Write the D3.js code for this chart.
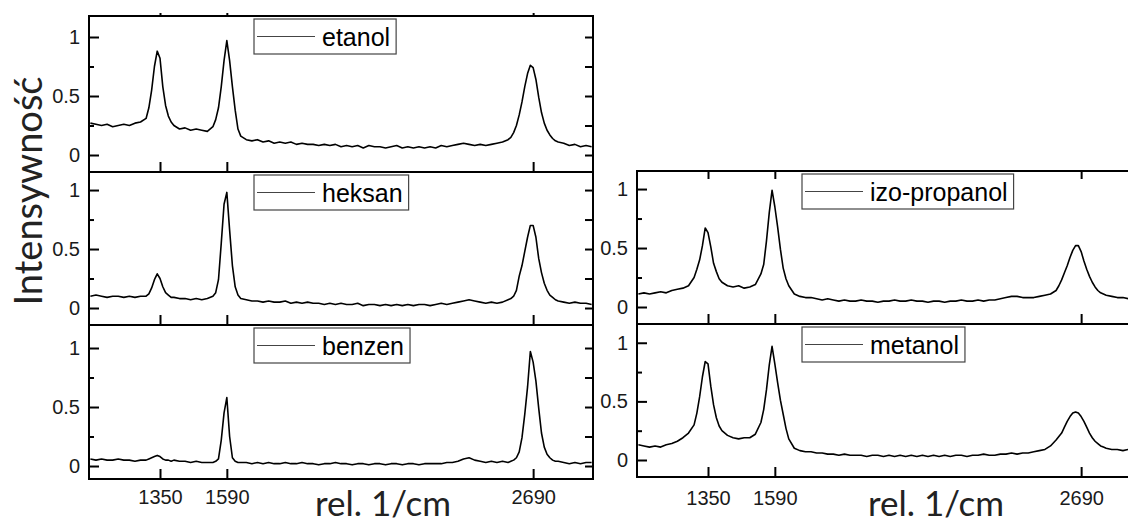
<!DOCTYPE html>
<html>
<head>
<meta charset="utf-8">
<script src="https://cdn.jsdelivr.net/npm/d3@7"></script>
<style>
  body { margin: 0; background: #fff; }
  svg { display: block; }
</style>
</head>
<body>
<script>
// Raman spectra, intensity vs. relative wavenumber (1/cm)

var wavenumber = [
  1100,1120,1140,1160,1180,1200,1220,1240,1260,1280,1300,
  1310,1320,1330,1340,1350,1360,1370,1380,1390,1400,
  1420,1440,1460,1480,1500,1520,1540,
  1550,1560,1570,1580,1590,1600,1610,1620,1630,1640,
  1660,1680,1700,1720,1740,1760,1780,1800,1820,1840,
  1860,1880,1900,1920,1940,1960,1980,2000,2020,2040,
  2060,2080,2100,2120,2140,2160,2180,2200,2220,2240,
  2260,2280,2300,2320,2340,2360,2380,2400,2420,2440,
  2460,2480,2500,2520,2540,2560,2580,2600,
  2610,2620,2630,2640,2650,2660,2670,2680,2690,2700,2710,2720,2730,2740,2750,2760,2770,2780,
  2800,2820,2840,2860,2880,2900
];

var etanol = [
  0.27,0.26,0.25,0.26,0.24,0.25,0.26,0.25,0.27,0.28,0.31,
  0.40,0.55,0.75,0.88,0.82,0.58,0.42,0.33,0.28,0.25,
  0.22,0.23,0.21,0.22,0.21,0.20,0.24,
  0.30,0.40,0.58,0.80,0.97,0.80,0.58,0.38,0.22,0.16,
  0.13,0.12,0.13,0.11,0.12,0.10,0.11,0.10,0.11,0.09,
  0.10,0.09,0.09,0.08,0.09,0.08,0.09,0.07,0.08,0.07,
  0.08,0.06,0.08,0.07,0.07,0.06,0.07,0.08,0.06,0.07,
  0.06,0.07,0.06,0.07,0.06,0.08,0.07,0.08,0.09,0.10,
  0.09,0.08,0.09,0.08,0.09,0.10,0.11,0.13,
  0.15,0.19,0.25,0.34,0.45,0.58,0.69,0.76,0.74,0.64,0.49,0.36,0.27,0.21,0.17,0.14,0.12,0.11,
  0.10,0.08,0.09,0.07,0.08,0.07
];

var heksan = [
  0.10,0.11,0.10,0.09,0.10,0.10,0.09,0.10,0.09,0.10,0.10,
  0.12,0.17,0.24,0.29,0.25,0.18,0.13,0.11,0.09,0.09,
  0.08,0.08,0.07,0.08,0.07,0.08,0.10,
  0.13,0.24,0.55,0.88,0.98,0.66,0.36,0.18,0.11,0.08,
  0.07,0.06,0.06,0.05,0.06,0.05,0.05,0.06,0.04,0.05,
  0.04,0.05,0.04,0.04,0.03,0.04,0.03,0.04,0.03,0.03,
  0.04,0.02,0.03,0.03,0.02,0.03,0.02,0.03,0.02,0.03,
  0.02,0.03,0.03,0.02,0.03,0.04,0.03,0.04,0.05,0.06,
  0.07,0.06,0.05,0.04,0.05,0.04,0.05,0.07,
  0.08,0.10,0.15,0.27,0.36,0.48,0.60,0.70,0.70,0.60,0.42,0.30,0.21,0.15,0.11,0.09,0.07,0.06,
  0.05,0.04,0.05,0.04,0.04,0.03
];

var benzen = [
  0.06,0.05,0.06,0.05,0.05,0.06,0.05,0.05,0.04,0.05,0.05,
  0.06,0.07,0.08,0.09,0.08,0.06,0.05,0.05,0.04,0.05,
  0.04,0.04,0.03,0.04,0.03,0.03,0.03,
  0.04,0.06,0.22,0.45,0.58,0.25,0.07,0.04,0.03,0.03,
  0.03,0.02,0.03,0.02,0.03,0.02,0.02,0.03,0.02,0.02,
  0.03,0.02,0.02,0.01,0.02,0.02,0.03,0.02,0.02,0.01,
  0.02,0.02,0.01,0.02,0.02,0.01,0.02,0.02,0.01,0.02,
  0.02,0.01,0.02,0.02,0.02,0.02,0.03,0.03,0.04,0.06,
  0.07,0.05,0.04,0.03,0.04,0.03,0.04,0.03,
  0.04,0.05,0.07,0.12,0.24,0.44,0.67,0.97,0.88,0.72,0.49,0.28,0.16,0.10,0.07,0.05,0.04,0.04,
  0.03,0.02,0.03,0.02,0.03,0.03
];

var izopropanol = [
  0.11,0.12,0.11,0.12,0.13,0.12,0.14,0.15,0.16,0.18,0.25,
  0.32,0.40,0.52,0.67,0.63,0.51,0.37,0.30,0.24,0.21,
  0.18,0.17,0.18,0.16,0.17,0.19,0.28,
  0.36,0.56,0.80,0.99,0.85,0.68,0.49,0.33,0.24,0.18,
  0.11,0.09,0.08,0.08,0.07,0.06,0.07,0.06,0.05,0.06,
  0.05,0.05,0.06,0.05,0.05,0.04,0.05,0.05,0.06,0.05,
  0.05,0.06,0.05,0.05,0.04,0.05,0.05,0.04,0.05,0.05,
  0.06,0.05,0.05,0.06,0.05,0.06,0.06,0.07,0.08,0.09,
  0.09,0.08,0.08,0.08,0.09,0.10,0.11,0.14,
  0.18,0.23,0.29,0.35,0.42,0.48,0.52,0.52,0.47,0.39,0.32,0.26,0.21,0.17,0.14,0.12,0.11,0.10,
  0.09,0.08,0.08,0.07,0.08,0.08
];

var metanol = [
  0.13,0.12,0.11,0.12,0.11,0.13,0.14,0.16,0.19,0.23,0.30,
  0.40,0.54,0.71,0.84,0.82,0.63,0.47,0.36,0.29,0.25,
  0.21,0.19,0.18,0.19,0.19,0.22,0.32,
  0.43,0.60,0.81,0.97,0.82,0.66,0.51,0.39,0.27,0.18,
  0.10,0.08,0.07,0.07,0.06,0.06,0.05,0.05,0.04,0.05,
  0.04,0.04,0.04,0.03,0.04,0.04,0.03,0.04,0.03,0.04,
  0.03,0.04,0.03,0.04,0.03,0.04,0.03,0.04,0.03,0.04,
  0.04,0.03,0.04,0.04,0.05,0.04,0.04,0.05,0.05,0.06,
  0.05,0.06,0.06,0.07,0.08,0.09,0.12,0.17,
  0.20,0.23,0.28,0.33,0.37,0.40,0.41,0.40,0.37,0.33,0.28,0.23,0.19,0.16,0.14,0.12,0.11,0.10,
  0.09,0.09,0.08,0.09,0.08,0.08
];

var xTicks = [1350, 1590, 2690];
var yMajor = [0, 0.5, 1];
var yMinor = [0.25, 0.75];
var yAll = [0, 0.25, 0.5, 0.75, 1];
var xTitle = "rel. 1/cm";
var yTitle = "Intensywność";

// panel layout (pixels)
var panelWidth = 504;
var xDomain = [1095, 2905];
var panels = [
  {name: "etanol",       values: etanol,      left: 89,  top: 16,  h: 156, yd: [-0.144, 1.178], labels: false, topTick: 3},
  {name: "heksan",       values: heksan,      left: 89,  top: 172, h: 153, yd: [-0.144, 1.153], labels: false, topTick: 0},
  {name: "benzen",       values: benzen,      left: 89,  top: 325, h: 154, yd: [-0.110, 1.195], labels: true,  pad: 11, topTick: 0},
  {name: "izo-propanol", values: izopropanol, left: 637, top: 171, h: 153, yd: [-0.144, 1.153], labels: false, topTick: 8},
  {name: "metanol",      values: metanol,     left: 637, top: 324, h: 153, yd: [-0.145, 1.160], labels: true,  pad: 14, topTick: 0}
];

var svg = d3.select("body").append("svg")
    .attr("width", 1128)
    .attr("height", 522);

var tickFont = "'Liberation Sans', Arial, sans-serif";

panels.forEach(function(p) {
  var x = d3.scaleLinear().domain(xDomain).range([p.left, p.left + panelWidth]);
  var y = d3.scaleLinear().domain(p.yd).range([p.top + p.h, p.top]);

  var line = d3.line()
      .x(function(d) { return x(d[0]); })
      .y(function(d) { return y(d[1]); });

  var pts = wavenumber.map(function(w, i) { return [w, p.values[i]]; });

  svg.append("path")
      .datum(pts)
      .attr("fill", "none")
      .attr("stroke", "#000")
      .attr("stroke-width", 1.6)
      .attr("stroke-linejoin", "round")
      .attr("d", line);

  // bottom axis, ticks pointing up into the panel
  svg.append("g")
      .attr("class", "ax")
      .attr("transform", "translate(0," + (p.top + p.h) + ")")
      .call(d3.axisBottom(x).tickValues(xTicks).tickSize(-10)
            .tickPadding(p.pad || 10)
            .tickFormat(p.labels ? d3.format("d") : function() { return ""; }));

  if (p.topTick) {
    svg.append("g")
        .attr("transform", "translate(0," + p.top + ")")
        .call(d3.axisTop(x).tickValues(xTicks).tickSize(p.name === "etanol" ? p.topTick : -p.topTick).tickFormat(""));
  }

  // left axis: major + minor ticks inward
  svg.append("g")
      .attr("class", "ax")
      .attr("transform", "translate(" + p.left + ",0)")
      .call(d3.axisLeft(y).tickValues(yMajor).tickSize(-10).tickPadding(9)
            .tickFormat(function(d) { return d; }));
  svg.append("g")
      .attr("transform", "translate(" + p.left + ",0)")
      .call(d3.axisLeft(y).tickValues(yMinor).tickSize(-5).tickFormat(""));

  // right axis
  svg.append("g")
      .attr("transform", "translate(" + (p.left + panelWidth) + ",0)")
      .call(d3.axisRight(y).tickValues(yAll).tickSize(-8).tickFormat(""));

  // frame
  svg.append("rect")
      .attr("x", p.left)
      .attr("y", p.top)
      .attr("width", panelWidth)
      .attr("height", p.h)
      .attr("fill", "none")
      .attr("stroke", "#000")
      .attr("stroke-width", 2);

  // legend
  var lg = svg.append("g")
      .attr("transform", "translate(" + (p.left + 165) + "," + (p.top + 3) + ")");
  var box = lg.append("rect")
      .attr("height", 35)
      .attr("fill", "#fff")
      .attr("stroke", "#444")
      .attr("stroke-width", 1.2);
  lg.append("line")
      .attr("x1", 3).attr("x2", 61)
      .attr("y1", 17.5).attr("y2", 17.5)
      .attr("stroke", "#444")
      .attr("stroke-width", 1);
  var txt = lg.append("text")
      .attr("x", 68)
      .attr("y", 27)
      .attr("font-family", tickFont)
      .attr("font-size", 25)
      .attr("fill", "#000")
      .text(p.name);
  box.attr("width", 68 + txt.node().getComputedTextLength() + 6);
});

// axis styling
svg.selectAll(".domain").remove();
svg.selectAll(".ax")
    .attr("font-family", tickFont)
    .attr("font-size", 20);
svg.selectAll(".tick line").attr("stroke", "#000").attr("stroke-width", 2);
svg.selectAll(".tick text")
    .attr("font-family", tickFont)
    .attr("font-size", 20)
    .attr("fill", "#1a1a1a");

// titles
svg.append("text")
    .attr("transform", "translate(42,191) rotate(-90)")
    .attr("text-anchor", "middle")
    .attr("font-family", "Lato, 'Open Sans', sans-serif")
    .attr("font-size", 38)
    .attr("fill", "#222")
    .text(yTitle);

[315, 868].forEach(function(xpos) {
  svg.append("text")
      .attr("x", xpos)
      .attr("y", 516)
      .attr("font-family", "Lato, 'Open Sans', sans-serif")
      .attr("font-size", 35)
      .attr("fill", "#222")
      .text(xTitle);
});
</script>
</body>
</html>
